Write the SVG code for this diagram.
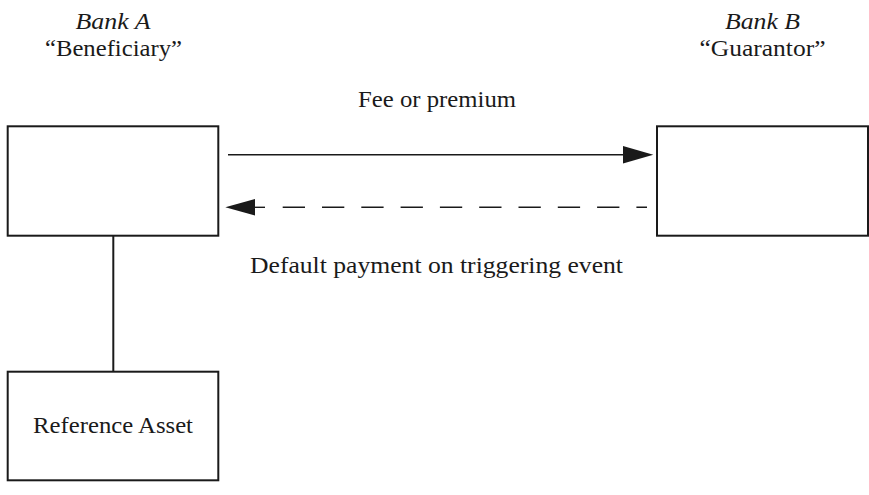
<svg xmlns="http://www.w3.org/2000/svg" width="869" height="495" viewBox="0 0 869 495">
<style>
.box{fill:#fff;stroke:#1a1a1a;stroke-width:2}
.t{font-family:"Liberation Serif","Times New Roman",serif;font-size:23px;fill:#1a1a1a;text-anchor:middle}
.i{font-style:italic}
.ln{stroke:#1a1a1a;stroke-width:1.4;fill:none}
.head{fill:#1a1a1a}
</style>
<rect width="869" height="495" fill="#fff"/>
<g id="bankA">
<rect class="box" x="7.7" y="126.3" width="210.6" height="109.4"/>
<text class="t i" x="113" y="29" textLength="75" lengthAdjust="spacingAndGlyphs">Bank A</text>
<text class="t" x="113.5" y="56" textLength="137" lengthAdjust="spacingAndGlyphs">“Beneficiary”</text>
</g>
<g id="bankB">
<rect class="box" x="657" y="126.3" width="211" height="109.4"/>
<text class="t i" x="762.5" y="29" textLength="75" lengthAdjust="spacingAndGlyphs">Bank B</text>
<text class="t" x="762.5" y="56" textLength="126" lengthAdjust="spacingAndGlyphs">“Guarantor”</text>
</g>
<g id="refAsset">
<rect class="box" x="7.7" y="371.7" width="210.6" height="108.6"/>
<text class="t" x="113" y="433" textLength="160" lengthAdjust="spacingAndGlyphs">Reference Asset</text>
</g>
<g id="connectors">
<line class="ln" x1="228" y1="154.7" x2="625" y2="154.7"/>
<polygon class="head" points="653.3,154.7 623,146 623,163.4"/>
<text class="t" x="437" y="107" textLength="158" lengthAdjust="spacingAndGlyphs">Fee or premium</text>
<line class="ln" x1="245" y1="207.3" x2="265" y2="207.3"/>
<line class="ln" x1="282.7" y1="207.3" x2="647" y2="207.3" stroke-dasharray="22.3 17"/>
<polygon class="head" points="225.3,207.3 255,199 255,215.6"/>
<text class="t" x="436.5" y="273" textLength="373" lengthAdjust="spacingAndGlyphs">Default payment on triggering event</text>
<line x1="113.3" y1="236" x2="113.3" y2="371.5" stroke="#1a1a1a" stroke-width="2"/>
</g>
</svg>
